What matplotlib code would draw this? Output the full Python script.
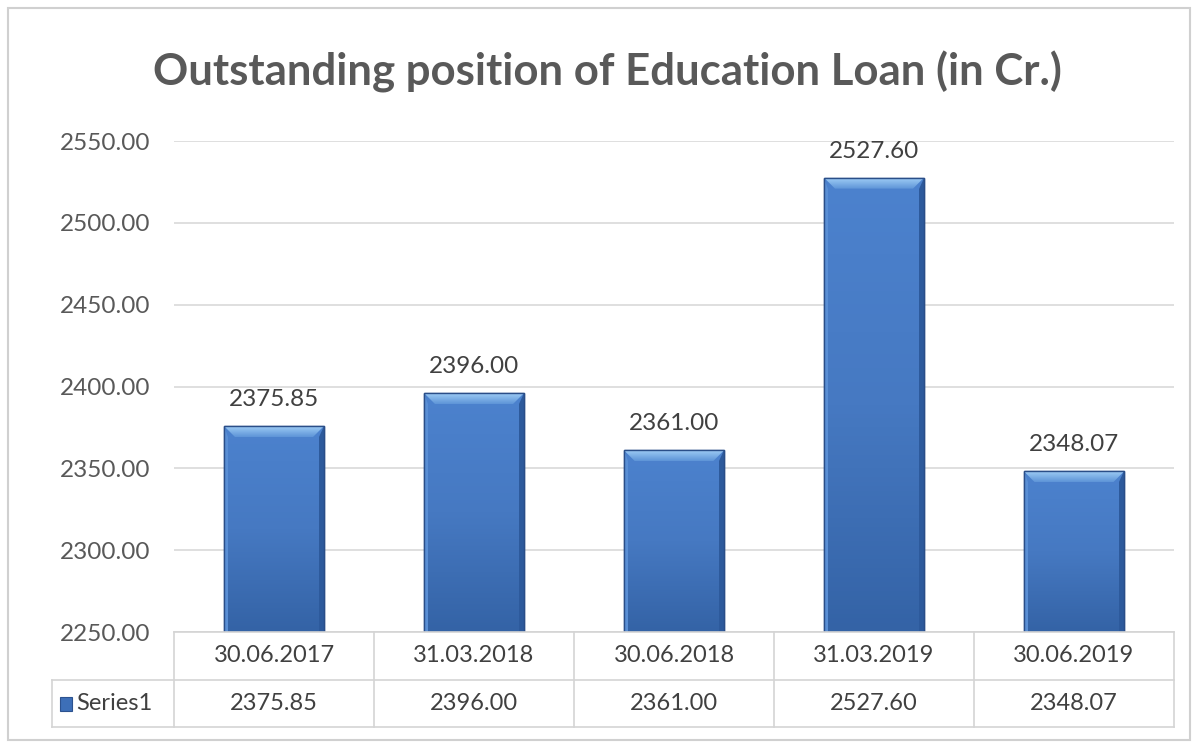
import matplotlib.pyplot as plt
import numpy as np
from matplotlib.patches import Rectangle, Polygon
from matplotlib.colors import LinearSegmentedColormap

dates = ["30.06.2017", "31.03.2018", "30.06.2018", "31.03.2019", "30.06.2019"]
loan = [2375.85, 2396.00, 2361.00, 2527.60, 2348.07]
series_name = "Series1"
y_ticks = [2250, 2300, 2350, 2400, 2450, 2500, 2550]

W, H = 1202, 745
plt.rcParams['font.family'] = ['Lato', 'DejaVu Sans']

fig = plt.figure(figsize=(W / 100, H / 100), dpi=100)
fig.patch.set_facecolor('white')

# outer chart border
fig.patches.append(Rectangle((8 / W, 5 / H), 1182 / W, 732 / H, transform=fig.transFigure,
                             fill=False, edgecolor='#d0d0d0', lw=1.5))

fig.text(607 / W, 1 - 72 / H, "Outstanding position of Education Loan (in Cr.)",
         ha='center', va='center', fontsize=31.5, fontweight='bold', color='#595959')

left, right, top, bottom = 174, 1174, 141, 632
ax = fig.add_axes([left / W, 1 - bottom / H, (right - left) / W, (bottom - top) / H])
ax.set_xlim(-0.5, len(dates) - 0.5)
ax.set_ylim(y_ticks[0], y_ticks[-1])
ax.set_yticks(y_ticks)
ax.set_yticklabels(["%.2f" % v for v in y_ticks])
ax.tick_params(axis='y', length=0, pad=17, labelsize=17.5, labelcolor='#595959')
ax.set_xticks([])
ax.grid(axis='y', color='#d9d9d9', lw=1.2)
ax.set_axisbelow(True)
for s in ax.spines.values():
    s.set_visible(False)

x = np.arange(len(dates))
bars = ax.bar(x, loan, width=0.5, color='#4a7ec8', edgecolor='#2c528f', lw=1.0, zorder=2)

grad = LinearSegmentedColormap.from_list('bar', ['#3463a6', '#4679c2', '#4c82ce'])
top_grad = LinearSegmentedColormap.from_list('bevel', ['#5f95d8', '#9ccbf4'])
px_y = (y_ticks[-1] - y_ticks[0]) / (bottom - top)   # data units per pixel (y)
px_x = len(dates) / (right - left)                    # data units per pixel (x)
for b, v in zip(bars, loan):
    x0, w = b.get_x(), b.get_width()
    y0 = y_ticks[0]
    img = ax.imshow(np.linspace(0, 1, 100).reshape(-1, 1), cmap=grad, origin='lower',
                    extent=(x0, x0 + w, y0, v), aspect='auto', zorder=2.5)
    img.set_clip_path(b)
    # bevel: light top, darker right edge, lighter left edge
    bh, bw = 11 * px_y, 11 * px_x
    bevel = Polygon([(x0, v), (x0 + w, v), (x0 + w - bw, v - bh), (x0 + bw, v - bh)],
                    closed=True, facecolor='none', edgecolor='none', zorder=3)
    ax.add_patch(bevel)
    timg = ax.imshow(np.linspace(0, 1, 20).reshape(-1, 1), cmap=top_grad, origin='lower',
                     extent=(x0, x0 + w, v - bh, v), aspect='auto', zorder=3)
    timg.set_clip_path(bevel)
    ax.add_patch(Polygon([(x0 + w, v), (x0 + w, y0), (x0 + w - 5 * px_x, y0),
                          (x0 + w - 5 * px_x, v - bh)],
                         closed=True, facecolor='#2d5a9c', edgecolor='none', zorder=3))
    ax.add_patch(Polygon([(x0, v), (x0, y0), (x0 + 4 * px_x, y0), (x0 + 4 * px_x, v - bh)],
                         closed=True, facecolor='#5a8fd5', edgecolor='none', zorder=3))
    ax.add_patch(Rectangle((x0, y0), w, v - y0, fill=False, edgecolor='#2a4e88', lw=1.0, zorder=4))
    ax.text(b.get_x() + w / 2, v + 16 * px_y, "%.2f" % v, ha='center', va='bottom',
            fontsize=17.5, color='#404040')
ax.set_xlim(-0.5, len(dates) - 0.5)
ax.set_ylim(y_ticks[0], y_ticks[-1])

# data table under the plot
row1_top, row2_top, row2_bot = 632, 680, 727
lab_left = 52
col_w = (right - left) / len(dates)
line_c = '#d4d4d4'

def hline(y, x0, x1):
    fig.add_artist(plt.Line2D([x0 / W, x1 / W], [1 - y / H, 1 - y / H], color=line_c, lw=1.2))

def vline(xp, y0, y1):
    fig.add_artist(plt.Line2D([xp / W, xp / W], [1 - y0 / H, 1 - y1 / H], color=line_c, lw=1.2))

hline(row1_top, left, right)
hline(row2_top, lab_left, right)
hline(row2_bot, lab_left, right)
for i in range(len(dates) + 1):
    vline(left + i * col_w, row1_top, row2_bot)
vline(lab_left, row2_top, row2_bot)

for i, (d, v) in enumerate(zip(dates, loan)):
    cx = (left + (i + 0.5) * col_w) / W
    fig.text(cx, 1 - (row1_top + row2_top) / 2 / H, d, ha='center', va='center',
             fontsize=17, color='#404040')
    fig.text(cx, 1 - (row2_top + row2_bot) / 2 / H, "%.2f" % v, ha='center', va='center',
             fontsize=17, color='#404040')

ymid = (row2_top + row2_bot) / 2
fig.patches.append(Rectangle((60 / W, 1 - (ymid + 7) / H), 12 / W, 14 / H,
                             transform=fig.transFigure, facecolor='#3d6fb8',
                             edgecolor='#2c528f', lw=0.8))
fig.text(76 / W, 1 - ymid / H, series_name, ha='left', va='center', fontsize=17, color='#404040')

fig.savefig('out.png', dpi=100)
